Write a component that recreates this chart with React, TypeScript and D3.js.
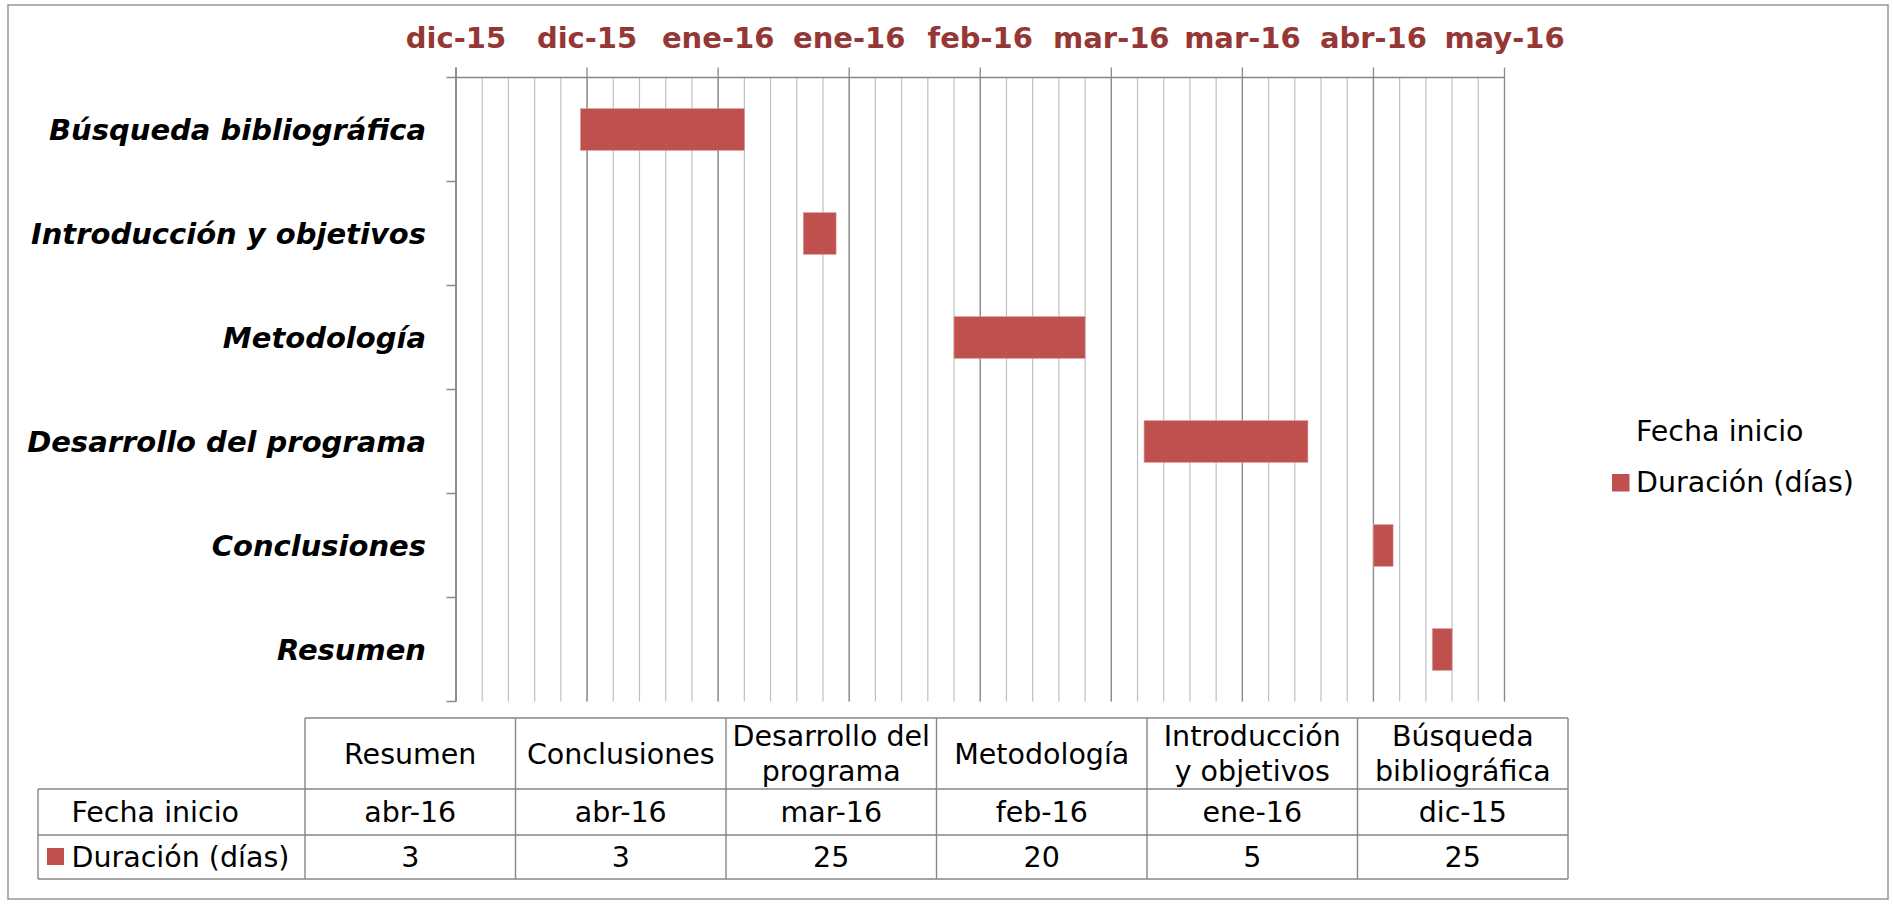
import React from "react";
import * as d3 from "d3";

// ---- data ----
const categories = [
  "Resumen",
  "Conclusiones",
  "Desarrollo del programa",
  "Metodología",
  "Introducción y objetivos",
  "Búsqueda bibliográfica",
];
const tableHeaders = [
  ["Resumen"],
  ["Conclusiones"],
  ["Desarrollo del", "programa"],
  ["Metodología"],
  ["Introducción", "y objetivos"],
  ["Búsqueda", "bibliográfica"],
];
const startDates = ["2016-04-28", "2016-04-19", "2016-03-15", "2016-02-15", "2016-01-23", "2015-12-20"];
const startLabels = ["abr-16", "abr-16", "mar-16", "feb-16", "ene-16", "dic-15"];
const durations = [3, 3, 25, 20, 5, 25];
const axisMin = "2015-12-01";
const axisMax = "2016-05-09";
const majorUnitDays = 20;
const minorUnitDays = 4;
const tickLabels = ["dic-15", "dic-15", "ene-16", "ene-16", "feb-16", "mar-16", "mar-16", "abr-16", "may-16"];
const seriesNames = ["Fecha inicio", "Duración (días)"];

const DAY = 86400000;
const parse = (s: string) => new Date(s + "T00:00:00Z");

export default function App() {
  const W = 1893, H = 904;
  const plot = { left: 456, right: 1504.5, top: 77.5, bottom: 701.5 };
  const x = d3.scaleUtc().domain([parse(axisMin), parse(axisMax)]).range([plot.left, plot.right]);
  const y = d3
    .scaleBand<string>()
    .domain([...categories].reverse())
    .range([plot.top, plot.bottom])
    .paddingInner(0.6)
    .paddingOuter(0.3);
  const step = y.step();

  const minT = parse(axisMin).getTime();
  const maxT = parse(axisMax).getTime();
  const minorTicks: Date[] = [];
  for (let t = minT; t <= maxT + 1; t += minorUnitDays * DAY) minorTicks.push(new Date(t));
  const majorTicks: Date[] = [];
  for (let t = minT; t <= maxT + 1; t += majorUnitDays * DAY) majorTicks.push(new Date(t));

  const font = "'DejaVu Sans', Verdana, sans-serif";
  const red = "#C0504D";
  const darkRed = "#953735";
  const gridMinor = "#BFBFBF";
  const gridMajor = "#8A8A8A";
  const lineGray = "#868686";

  // table geometry
  const tLeft = 38, tColStart = 305, tRight = 1568;
  const colW = (tRight - tColStart) / categories.length;
  const rowY = [718, 789, 835, 879];
  const fs = 28.5;

  const catBoundaries = d3.range(categories.length + 1).map((i) => plot.top + i * step);

  return (
    <svg width={W} height={H} style={{ position: "absolute", left: 0, top: 0, background: "#fff" }} fontFamily={font}>
      <rect x={0} y={0} width={W} height={H} fill="#fff" />
      <rect x={8} y={5} width={1880} height={894} fill="none" stroke={lineGray} strokeWidth={1.3} />

      {/* minor gridlines */}
      {minorTicks.map((d, i) => (
        <line key={"mi" + i} x1={x(d)} x2={x(d)} y1={plot.top} y2={plot.bottom} stroke={gridMinor} strokeWidth={1.2} />
      ))}
      {/* major gridlines + ticks */}
      {majorTicks.map((d, i) => (
        <line key={"ma" + i} x1={x(d)} x2={x(d)} y1={plot.top - 10} y2={plot.bottom} stroke={gridMajor} strokeWidth={1.3} />
      ))}
      {/* axis lines */}
      <line x1={plot.left} x2={plot.right} y1={plot.top} y2={plot.top} stroke={lineGray} strokeWidth={1.6} />
      <line x1={plot.left} x2={plot.left} y1={plot.top - 10} y2={plot.bottom} stroke={lineGray} strokeWidth={1.6} />
      {catBoundaries.map((yy, i) => (
        <line key={"ct" + i} x1={plot.left - 9.5} x2={plot.left} y1={yy} y2={yy} stroke={lineGray} strokeWidth={1.4} />
      ))}

      {/* bars */}
      {categories.map((c, i) => {
        const s = parse(startDates[i]);
        const e = new Date(s.getTime() + durations[i] * DAY);
        return (
          <rect key={"b" + i} x={x(s)} y={y(c)!} width={x(e) - x(s)} height={y.bandwidth()} fill={red} stroke="#D99694" strokeWidth={0.6} />
        );
      })}

      {/* top axis labels */}
      {majorTicks.map((d, i) => (
        <text key={"tl" + i} x={x(d)} y={48} textAnchor="middle" fontSize={29} fontWeight="bold" fill={darkRed}>
          {tickLabels[i]}
        </text>
      ))}

      {/* category labels */}
      {categories.map((c, i) => (
        <text key={"cl" + i} x={426} y={y(c)! + y.bandwidth() / 2 + 10} textAnchor="end" fontSize={29} fontWeight="bold" fontStyle="italic" fill="#000">
          {c}
        </text>
      ))}

      {/* legend */}
      <text x={1636} y={441} fontSize={fs} fill="#000">{seriesNames[0]}</text>
      <rect x={1612} y={474} width={17.5} height={17.5} fill={red} />
      <text x={1636} y={492} fontSize={fs} fill="#000">{seriesNames[1]}</text>

      {/* data table */}
      <g stroke={lineGray} strokeWidth={1.4} fill="none">
        <line x1={tColStart} x2={tRight} y1={rowY[0]} y2={rowY[0]} />
        <line x1={tLeft} x2={tRight} y1={rowY[1]} y2={rowY[1]} />
        <line x1={tLeft} x2={tRight} y1={rowY[2]} y2={rowY[2]} />
        <line x1={tLeft} x2={tRight} y1={rowY[3]} y2={rowY[3]} />
        <line x1={tLeft} x2={tLeft} y1={rowY[1]} y2={rowY[3]} />
        {d3.range(categories.length + 1).map((i) => (
          <line key={"tc" + i} x1={tColStart + i * colW} x2={tColStart + i * colW} y1={rowY[0]} y2={rowY[3]} />
        ))}
      </g>
      {tableHeaders.map((lines, i) => {
        const cx = tColStart + (i + 0.5) * colW;
        const cy = (rowY[0] + rowY[1]) / 2;
        return lines.length === 1 ? (
          <text key={"th" + i} x={cx} y={cy + 10} textAnchor="middle" fontSize={fs} fill="#000">{lines[0]}</text>
        ) : (
          <g key={"th" + i}>
            <text x={cx} y={cy - 17.5 + 10} textAnchor="middle" fontSize={fs} fill="#000">{lines[0]}</text>
            <text x={cx} y={cy + 17.5 + 10} textAnchor="middle" fontSize={fs} fill="#000">{lines[1]}</text>
          </g>
        );
      })}
      <text x={71.5} y={(rowY[1] + rowY[2]) / 2 + 10} fontSize={fs} fill="#000">{seriesNames[0]}</text>
      <rect x={47} y={848} width={17} height={17} fill={red} />
      <text x={71.5} y={(rowY[2] + rowY[3]) / 2 + 10} fontSize={fs} fill="#000">{seriesNames[1]}</text>
      {categories.map((c, i) => (
        <g key={"tv" + i}>
          <text x={tColStart + (i + 0.5) * colW} y={(rowY[1] + rowY[2]) / 2 + 10} textAnchor="middle" fontSize={fs} fill="#000">{startLabels[i]}</text>
          <text x={tColStart + (i + 0.5) * colW} y={(rowY[2] + rowY[3]) / 2 + 10} textAnchor="middle" fontSize={fs} fill="#000">{durations[i]}</text>
        </g>
      ))}
    </svg>
  );
}
